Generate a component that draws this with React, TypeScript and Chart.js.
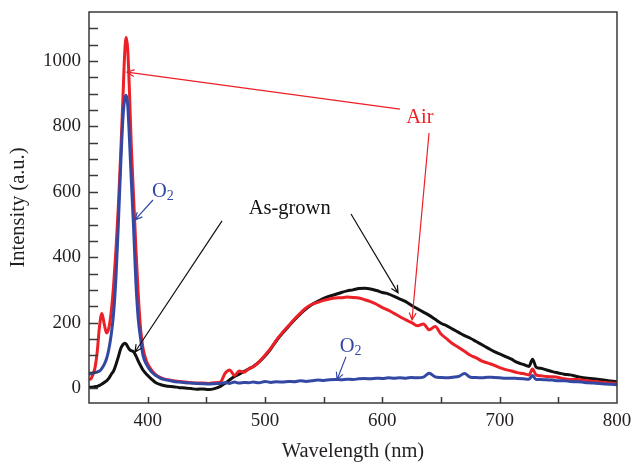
import { useEffect, useRef } from "react";
import { Chart, registerables } from "chart.js";

Chart.register(...registerables);

// ---- Data ----
const wavelength = [
  350, 352, 355, 357, 359, 361, 363, 365, 367, 369,
  371, 373, 375, 377, 379, 380.5, 381.8, 383, 384.5, 386,
  388, 390, 392, 394, 396, 399, 403, 407, 412, 417,
  422, 427, 432, 437, 442, 447, 452, 457, 462, 466,
  470, 474, 478, 482, 486, 490, 495, 500, 505, 510,
  515, 520, 525, 530, 535, 540, 545, 550, 555, 560,
  565, 570, 575, 580, 585, 590, 595, 600, 605, 610,
  615, 620, 625, 630, 635, 640, 645, 650, 655, 660,
  665, 670, 675, 680, 685, 690, 695, 700, 705, 710,
  715, 720, 725, 728, 731, 735, 740, 745, 750, 755,
  760, 765, 770, 775, 780, 785, 790, 795, 800,
];

const airIntensity = [
  25, 30, 60, 110, 190, 228, 195, 168, 185, 235,
  315, 425, 555, 715, 895, 1030, 1072, 1035, 905, 745,
  585, 425, 285, 180, 122, 82, 56, 40, 30, 25,
  22, 20, 18, 16, 15, 15, 14, 16, 18, 45,
  55, 38, 52, 48, 58, 65, 80, 100, 122, 148,
  170, 190, 210, 228, 245, 256, 262, 268, 272, 275,
  276, 278, 277, 275, 270, 264, 256, 246, 238, 228,
  218, 208, 200, 190, 196, 178, 188, 165, 150, 135,
  124, 112, 100, 92, 82, 76, 70, 62, 56, 52,
  47, 44, 40, 58, 40, 37, 35, 34, 32, 28,
  26, 26, 24, 22, 20, 18, 16, 15, 14,
];

const asGrownIntensity = [
  3, 2, 4, 5, 8, 12, 17, 22, 30, 42,
  52, 72, 95, 120, 133, 137, 134, 126, 118, 114,
  111, 98, 82, 68, 55, 42, 28, 16, 9, 5,
  4, 1, 0, -2, -4, -3, -5, -2, 5, 14,
  25, 35, 42, 50, 58, 66, 80, 98, 120, 146,
  168, 188, 208, 226, 242, 255, 265, 274, 281, 286,
  292, 297, 300, 304, 305, 303, 298, 292, 288, 280,
  272, 264, 252, 242, 232, 222, 210, 198, 190, 180,
  170, 160, 152, 142, 132, 122, 112, 104, 96, 88,
  78, 72, 66, 88, 64, 60, 55, 50, 46, 42,
  40, 36, 32, 30, 28, 26, 24, 21, 19,
];

const o2Intensity = [
  42, 44, 47, 49, 52, 60, 72, 90, 120, 165,
  230, 340, 500, 680, 830, 885, 895, 865, 760, 640,
  490, 320, 210, 150, 100, 72, 50, 38, 28, 24,
  20, 18, 16, 15, 14, 13, 12, 13, 14, 16,
  14, 18, 15, 17, 16, 18, 16, 20, 17, 19,
  18, 20, 19, 22, 20, 22, 24, 23, 25, 26,
  25, 27, 26, 28, 29, 28, 30, 29, 31, 30,
  31, 30, 32, 31, 33, 45, 34, 32, 31, 33,
  35, 44, 33, 32, 31, 33, 32, 31, 30, 30,
  29, 28, 27, 38, 26, 26, 25, 24, 22, 22,
  20, 19, 18, 16, 15, 14, 12, 11, 10,
];

const xTickLabels = [400, 500, 600, 700, 800];
const yTickLabels = [0, 200, 400, 600, 800, 1000];

// ---- Styles ----
const FONT = "'Liberation Serif', 'DejaVu Serif', serif";
const TEXT = "#231f20";
const RED = "#ec2027";
const BLUE = "#3348a3";
const BLACK = "#111111";

// annotation labels & arrows in data coordinates
const labels = [
  { text: "Air", x: 632, y: 826, color: RED, sub: "" },
  { text: "As-grown", x: 521, y: 550, color: BLACK, sub: "" },
  { text: "O", x: 413, y: 600, color: BLUE, sub: "2" },
  { text: "O", x: 573, y: 126, color: BLUE, sub: "2" },
];
const arrows = [
  { x1: 615, y1: 853, x2: 382.4, y2: 966, color: RED },
  { x1: 639.8, y1: 780, x2: 625.3, y2: 208, color: RED },
  { x1: 463.4, y1: 511, x2: 389.2, y2: 110, color: BLACK },
  { x1: 573.3, y1: 532, x2: 613.4, y2: 291, color: BLACK },
  { x1: 404.5, y1: 575, x2: 389.2, y2: 514, color: BLUE },
  { x1: 569, y1: 95, x2: 561.4, y2: 25, color: BLUE },
];

const toPoints = (ys: number[]) => wavelength.map((x, i) => ({ x, y: ys[i] }));

const framePlugin = {
  id: "frameTicks",
  afterDraw(chart: any) {
    const { ctx, chartArea: a, scales } = chart;
    ctx.save();
    ctx.strokeStyle = "#3a3a3a";
    ctx.lineWidth = 1.5;
    ctx.beginPath();
    for (let v = 0; v <= 1100; v += 50) {
      const py = Math.round(scales.y.getPixelForValue(v)) + 0.5;
      ctx.moveTo(a.left, py);
      ctx.lineTo(a.left + 9, py);
    }
    for (let v = 400; v < 800; v += 50) {
      const px = Math.round(scales.x.getPixelForValue(v)) + 0.5;
      ctx.moveTo(px, a.bottom);
      ctx.lineTo(px, a.bottom - 6);
    }
    ctx.stroke();
    ctx.strokeRect(a.left, a.top, a.right - a.left, a.bottom - a.top);
    ctx.restore();
  },
};

const annotationPlugin = {
  id: "annotations",
  afterDatasetsDraw(chart: any) {
    const { ctx, scales } = chart;
    const X = (v: number) => scales.x.getPixelForValue(v);
    const Y = (v: number) => scales.y.getPixelForValue(v);
    ctx.save();
    ctx.lineWidth = 1.2;
    for (const ar of arrows) {
      const x1 = X(ar.x1), y1 = Y(ar.y1), x2 = X(ar.x2), y2 = Y(ar.y2);
      ctx.strokeStyle = ar.color;
      ctx.beginPath();
      ctx.moveTo(x1, y1);
      ctx.lineTo(x2, y2);
      const ang = Math.atan2(y2 - y1, x2 - x1);
      const len = 8;
      const spread = 0.45;
      ctx.moveTo(x2 - len * Math.cos(ang - spread), y2 - len * Math.sin(ang - spread));
      ctx.lineTo(x2, y2);
      ctx.lineTo(x2 - len * Math.cos(ang + spread), y2 - len * Math.sin(ang + spread));
      ctx.stroke();
    }
    ctx.textBaseline = "middle";
    for (const lb of labels) {
      ctx.fillStyle = lb.color;
      ctx.font = `20.5px ${FONT}`;
      const w = ctx.measureText(lb.text).width;
      ctx.font = `14px ${FONT}`;
      const ws = lb.sub ? ctx.measureText(lb.sub).width : 0;
      const total = w + ws;
      const px = X(lb.x) - total / 2;
      const py = Y(lb.y);
      ctx.font = `20.5px ${FONT}`;
      ctx.textAlign = "left";
      ctx.fillText(lb.text, px, py);
      if (lb.sub) {
        ctx.font = `14px ${FONT}`;
        ctx.fillText(lb.sub, px + w, py + 5);
      }
    }
    ctx.restore();
  },
};

export default function App() {
  const ref = useRef<HTMLCanvasElement | null>(null);
  useEffect(() => {
    if (!ref.current) return;
    const chart = new Chart(ref.current, {
      type: "line",
      data: {
        datasets: [
          { label: "O2", data: toPoints(o2Intensity), borderColor: BLUE, order: 1 },
          { label: "Air", data: toPoints(airIntensity), borderColor: RED, order: 2 },
          { label: "As-grown", data: toPoints(asGrownIntensity), borderColor: BLACK, order: 3 },
        ].map((d) => ({
          ...d,
          borderWidth: 3,
          pointRadius: 0,
          fill: false,
          cubicInterpolationMode: "monotone" as const,
        })),
      },
      options: {
        responsive: false,
        animation: false,
        layout: { padding: { top: 12, right: 17, left: 0, bottom: 0 } },
        plugins: { legend: { display: false }, tooltip: { enabled: false } },
        scales: {
          x: {
            type: "linear",
            min: 350,
            max: 800,
            afterFit: (s: any) => { s.height = 61; s.paddingLeft = 0; s.paddingRight = 0; },
            afterBuildTicks: (s: any) => { s.ticks = xTickLabels.map((v) => ({ value: v })); },
            grid: { display: false, drawTicks: false },
            border: { display: false },
            ticks: {
              font: { family: FONT, size: 19 },
              color: TEXT,
              padding: 7,
              maxRotation: 0,
              callback: (v: any) => String(v),
            },
            title: {
              display: true,
              text: "Wavelength (nm)",
              font: { family: FONT, size: 20.5 },
              color: TEXT,
              padding: { top: 0, bottom: 0 },
            },
          },
          y: {
            type: "linear",
            min: -46,
            max: 1150,
            afterFit: (s: any) => { s.width = 89; s.paddingTop = 0; s.paddingBottom = 0; },
            afterBuildTicks: (s: any) => { s.ticks = yTickLabels.map((v) => ({ value: v })); },
            grid: { display: false, drawTicks: false },
            border: { display: false },
            ticks: {
              font: { family: FONT, size: 19 },
              color: TEXT,
              padding: 8,
              callback: (v: any) => String(v),
            },
            title: {
              display: true,
              text: "Intensity (a.u.)",
              font: { family: FONT, size: 20.5 },
              color: TEXT,
              padding: { top: 6, bottom: 0 },
            },
          },
        },
      },
      plugins: [annotationPlugin, framePlugin],
    });
    return () => chart.destroy();
  }, []);
  return (
    <div style={{ position: "absolute", left: 0, top: 0, width: 634, height: 464, background: "#fff" }}>
      <canvas ref={ref} width={634} height={464} />
    </div>
  );
}
